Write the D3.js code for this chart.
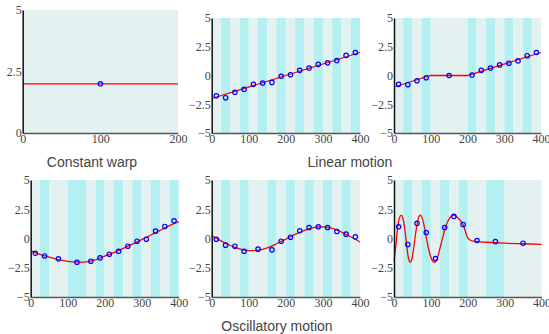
<!DOCTYPE html>
<html>
<head>
<meta charset="utf-8">
<script src="https://cdn.jsdelivr.net/npm/d3@7"></script>
<style>
  body { margin: 0; background: #fff; }
  .title { font-family: "Liberation Sans", Arial, sans-serif; font-size: 14px; fill: #444; }
</style>
</head>
<body>
<div id="chart-area"></div>
<script>
// band edges (alternating light / cyan, starting light)
var p1Bands = [0, 200]
var p2Bands = [0, 25, 50, 75, 100, 125, 150, 175, 200, 225, 250, 275, 300, 325, 350, 375, 400]
var p3Bands = [0, 25, 50, 75, 100, 200, 225, 250, 275, 300, 325, 350, 375, 400]
var p4Bands = [0, 25, 50, 100, 150, 175, 200, 225, 250, 275, 300, 325, 350, 375, 400]
var p5Bands = [0, 25, 50, 75, 100, 150, 175, 200, 225, 250, 275, 300, 325, 350, 375, 400]
var p6Bands = [0, 25, 50, 75, 100, 125, 150, 175, 200, 250, 300, 400]

// observed points
var p1PtX = [100]
var p1PtY = [2]
var p2PtX = [12.5, 37.5, 62.5, 87.5, 112.5, 137.5, 162.5, 187.5, 212.5, 237.5, 262.5, 287.5, 312.5, 337.5, 362.5, 387.5]
var p2PtY = [-1.76, -1.93, -1.46, -1.2, -0.77, -0.65, -0.6, -0.07, 0.07, 0.45, 0.65, 0.97, 1.1, 1.3, 1.75, 2.0]
var p3PtX = [12.5, 37.5, 62.5, 87.5, 150, 212.5, 237.5, 262.5, 287.5, 312.5, 337.5, 362.5, 387.5]
var p3PtY = [-0.77, -0.8, -0.45, -0.19, 0, 0.04, 0.45, 0.65, 0.92, 1.07, 1.27, 1.72, 2.0]
var p4PtX = [12.5, 37.5, 75, 125, 162.5, 187.5, 212.5, 237.5, 262.5, 287.5, 312.5, 337.5, 362.5, 387.5]
var p4PtY = [-1.26, -1.49, -1.74, -2.03, -1.94, -1.66, -1.34, -1.09, -0.66, -0.23, -0.06, 0.63, 1.03, 1.51]
var p5PtX = [12.5, 37.5, 62.5, 87.5, 125, 162.5, 187.5, 212.5, 237.5, 262.5, 287.5, 312.5, 337.5, 362.5, 387.5]
var p5PtY = [-0.06, -0.57, -0.66, -1.09, -0.91, -0.97, -0.23, 0.11, 0.66, 0.94, 1.0, 0.94, 0.6, 0.37, 0.14]
var p6PtX = [12.5, 37.5, 62.5, 87.5, 112.5, 137.5, 162.5, 187.5, 225, 275, 350]
var p6PtY = [1.0, -0.51, 1.29, 0.51, -1.71, 0.94, 1.89, 1.2, -0.17, -0.26, -0.4]

// fitted warp curves
var p1LineX = [0, 200]
var p1LineY = [2, 2]
var p2LineX = [0, 400]
var p2LineY = [-2, 2]
var p3LineX = [0, 100, 200, 400]
var p3LineY = [-1, 0, 0, 2]
var p4LineX = [0, 25, 50, 75, 100, 125, 150, 175, 200, 225, 250, 275, 300, 325, 350, 375, 400]
var p4LineY = [-1.05, -1.35, -1.6, -1.8, -1.95, -2.02, -2.0, -1.82, -1.5, -1.2, -0.85, -0.48, -0.1, 0.3, 0.7, 1.1, 1.45]
var p5LineX = [0, 25, 50, 75, 100, 125, 150, 175, 200, 225, 250, 275, 300, 325, 350, 375, 400]
var p5LineY = [0.25, -0.2, -0.6, -0.88, -1.03, -1.0, -0.8, -0.45, -0.05, 0.35, 0.7, 0.93, 1.0, 0.86, 0.55, 0.15, -0.3]
var p6LineX = [0, 5, 10, 15, 20, 25, 30, 35, 40, 44, 48, 53, 58, 63, 68, 72, 77, 83, 90, 97, 104, 110, 117, 125, 133, 141, 150, 157, 162, 170, 178, 188, 195, 200, 207, 220, 250, 300, 350, 400]
var p6LineY = [-1.9, -0.6, 0.9, 1.8, 2.0, 1.6, 0.6, -0.7, -1.8, -2.05, -1.8, -0.9, 0.3, 1.3, 1.9, 2.0, 1.7, 0.9, -0.3, -1.3, -1.9, -2.05, -1.7, -0.8, 0.2, 1.1, 1.7, 1.93, 1.97, 1.85, 1.6, 1.15, 0.45, 0.05, -0.15, -0.25, -0.32, -0.4, -0.45, -0.5]

var yTicksA = [0, 2.5, 5]
var yTicksB = [-5, -2.5, 0, 2.5, 5]
var xTicksA = [0, 100, 200]
var xTicksB = [0, 100, 200, 300, 400]

var titles = ["Constant warp", "Linear motion", "Oscillatory motion"]

var panels = [
  { box: [22.7, 178, 10, 133], xd: [0, 200], yd: [0, 5], xt: xTicksA, yt: yTicksA, bands: p1Bands, px: p1PtX, py: p1PtY, lx: p1LineX, ly: p1LineY },
  { box: [211.7, 360, 18, 133], xd: [0, 400], yd: [-5, 5], xt: xTicksB, yt: yTicksB, bands: p2Bands, px: p2PtX, py: p2PtY, lx: p2LineX, ly: p2LineY },
  { box: [394, 541, 18, 133], xd: [0, 400], yd: [-5, 5], xt: xTicksB, yt: yTicksB, bands: p3Bands, px: p3PtX, py: p3PtY, lx: p3LineX, ly: p3LineY },
  { box: [30.7, 178.7, 180, 297], xd: [0, 400], yd: [-5, 5], xt: xTicksB, yt: yTicksB, bands: p4Bands, px: p4PtX, py: p4PtY, lx: p4LineX, ly: p4LineY },
  { box: [211.7, 360, 180, 297], xd: [0, 400], yd: [-5, 5], xt: xTicksB, yt: yTicksB, bands: p5Bands, px: p5PtX, py: p5PtY, lx: p5LineX, ly: p5LineY },
  { box: [394, 541.5, 180, 297], xd: [0, 400], yd: [-5, 5], xt: xTicksB, yt: yTicksB, bands: p6Bands, px: p6PtX, py: p6PtY, lx: p6LineX, ly: p6LineY }
]

var svg = d3.select("#chart-area").append("svg")
  .attr("width", 549)
  .attr("height", 334)

var fmt = function (d) { return String(d).replace("-", "\u2212") }

function styleTicks(sel) {
  sel.attr("font-family", "Liberation Serif")
    .attr("font-size", 12)
  sel.selectAll("text")
    .style("font-family", "Liberation Serif")
    .style("font-size", "12px")
    .attr("fill", "#444")
}

panels.forEach(function (p, i) {
  var x = d3.scaleLinear().domain(p.xd).range([p.box[0], p.box[1]])
  var y = d3.scaleLinear().domain(p.yd).range([p.box[3], p.box[2]])
  var g = svg.append("g")

  var bands = d3.pairs(p.bands)
  g.selectAll("rect")
    .data(bands)
    .enter()
    .append("rect")
    .attr("x", function (d) { return x(d[0]) })
    .attr("width", function (d) { return x(d[1]) - x(d[0]) })
    .attr("y", p.box[2])
    .attr("height", p.box[3] - p.box[2])
    .attr("fill", function (d, j) { return j % 2 == 0 ? "#e4f1f1" : "#b4eff1" })

  var line = d3.line()
    .x(function (d) { return x(d[0]) })
    .y(function (d) { return y(d[1]) })
    .curve(p.lx.length > 4 ? d3.curveCatmullRom.alpha(0.5) : d3.curveLinear)

  g.append("path")
    .datum(d3.zip(p.lx, p.ly))
    .attr("d", line)
    .attr("fill", "none")
    .attr("stroke", "#ff0000")
    .attr("stroke-width", 1.3)

  g.selectAll("circle")
    .data(d3.zip(p.px, p.py))
    .enter()
    .append("circle")
    .attr("cx", function (d) { return x(d[0]) })
    .attr("cy", function (d) { return y(d[1]) })
    .attr("r", 2.2)
    .attr("fill", "none")
    .attr("stroke", "#0000ff")
    .attr("stroke-width", 1.2)

  var xAxis = g.append("g")
    .attr("transform", "translate(0," + p.box[3] + ")")
    .call(d3.axisBottom(x).tickValues(p.xt).tickSize(0).tickPadding(1).tickFormat(fmt))
  xAxis.select(".domain").attr("stroke", "#555").attr("stroke-width", 1.5)
  styleTicks(xAxis)

  var yAxis = g.append("g")
    .attr("transform", "translate(" + p.box[0] + ",0)")
    .call(d3.axisLeft(y).tickValues(p.yt).tickSize(0).tickPadding(1).tickFormat(fmt))
  yAxis.select(".domain").attr("stroke", "#111").attr("stroke-width", 1.5)
  styleTicks(yAxis)
})

svg.append("text").attr("class", "title")
  .attr("x", 92).attr("y", 167).attr("text-anchor", "middle").text(titles[0])
svg.append("text").attr("class", "title")
  .attr("x", 350).attr("y", 167).attr("text-anchor", "middle").text(titles[1])
svg.append("text").attr("class", "title")
  .attr("x", 277).attr("y", 331).attr("text-anchor", "middle").text(titles[2])
</script>
</body>
</html>
